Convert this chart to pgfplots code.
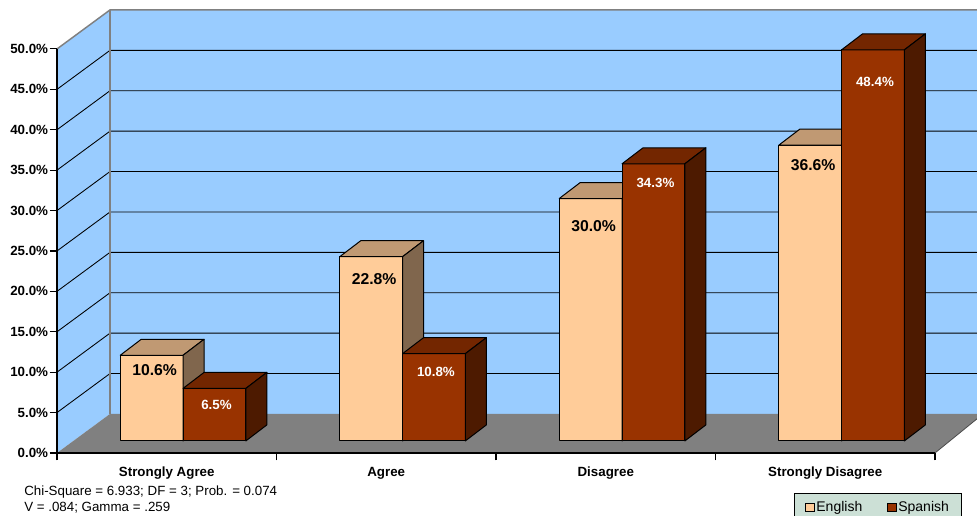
\documentclass[border=0pt]{standalone}
\usepackage{pgfplots}
\usepackage{pgfplotstable}
\usepackage{fontspec}
\setmainfont{Liberation Sans}
\pgfplotsset{compat=1.18}

\definecolor{wallblue}{HTML}{99CCFF}
\definecolor{floorgray}{HTML}{808080}
\definecolor{walledge}{HTML}{808080}
\definecolor{engfront}{HTML}{FFCC99}
\definecolor{engtop}{HTML}{C09973}
\definecolor{engside}{HTML}{80664D}
\definecolor{spafront}{HTML}{993300}
\definecolor{spatop}{HTML}{732600}
\definecolor{spaside}{HTML}{4D1A00}
\definecolor{legendbg}{HTML}{CCE0D6}

% share of responses (%), with the drop of each value label below its bar top (pt)
\pgfplotstableread{
cat english spanish eoff soff
0   10.6    6.5     11.25 12.5
1   22.8    10.8    17    13.8
2   30.0    34.3    21    14.5
3   36.6    48.4    15    23.8
}\responses

% geometry: x in 0.75pt units, y in percent
\def\catw{219.5}  % category width
\def\barw{62.8}   % bar width
\def\base{1.49}   % bar front stands behind the front edge of the floor
\def\ddx{21}      % bar depth
\def\ddy{1.98}
\def\wdx{53}      % wall depth
\def\wdy{4.83}

% one 3-D bar: #1 left edge of front face, #2 value, #3/#4/#5 front/top/side colours
\newcommand\cuboid[5]{%
  \pgfmathsetmacro\xl{#1}%
  \pgfmathsetmacro\xr{#1+\barw}%
  \pgfmathsetmacro\yt{\base+#2}%
  \pgfmathsetmacro\xlb{\xl+\ddx}%
  \pgfmathsetmacro\xrb{\xr+\ddx}%
  \pgfmathsetmacro\ybb{\base+\ddy}%
  \pgfmathsetmacro\ytb{\yt+\ddy}%
  \addplot[forget plot, fill=#3, draw=black, line width=0.75pt, line join=round]
    coordinates {(\xl,\base) (\xr,\base) (\xr,\yt) (\xl,\yt)} -- cycle;
  \addplot[forget plot, fill=#4, draw=black, line width=0.75pt, line join=round]
    coordinates {(\xl,\yt) (\xr,\yt) (\xrb,\ytb) (\xlb,\ytb)} -- cycle;
  \addplot[forget plot, fill=#5, draw=black, line width=0.75pt, line join=round]
    coordinates {(\xr,\base) (\xrb,\ybb) (\xrb,\ytb) (\xr,\yt)} -- cycle;
}

\begin{document}
\begin{tikzpicture}
\begin{axis}[
  x=0.75pt, y=6.06pt,
  xmin=0, xmax=878, ymin=0, ymax=50,
  enlargelimits=false,
  clip=false,
  axis on top,
  axis x line*=bottom, axis y line*=left,
  axis line style={-, black, line width=0.8pt},
  tick align=outside,
  every tick/.style={black, line width=0.8pt},
  major tick length=5.5pt,
  ytick={0,5,...,50},
  yticklabels={0.0\%,5.0\%,10.0\%,15.0\%,20.0\%,25.0\%,30.0\%,35.0\%,40.0\%,45.0\%,50.0\%},
  yticklabel style={font=\bfseries\fontsize{10}{12}\selectfont, inner xsep=1pt},
  xtick={0,219.5,439,658.5,878},
  xticklabels={},
  extra x ticks={109.75,329.25,548.75,768.25},
  extra x tick labels={Strongly Agree,Agree,Disagree,Strongly Disagree},
  extra x tick style={major tick length=0pt,
    xticklabel style={font=\bfseries\fontsize{10}{12}\selectfont, yshift=-7pt}},
  legend columns=2,
  legend image code/.code={\draw[#1, line width=0.6pt] (0pt,-3.2pt) rectangle (6.4pt,3.2pt);},
  legend style={at={(0.8394,-0.099)}, anchor=north west, draw=black,
    fill=legendbg, line width=0.6pt,
    font=\fontsize{10.5}{12}\selectfont, inner xsep=8pt, inner ysep=4pt,
    nodes={inner xsep=1.5pt},
    /tikz/every even column/.append style={column sep=17pt}},
]

% side wall, back wall and their edges
\addplot[forget plot, fill=wallblue, draw=none]
  coordinates {(0,0) (\wdx,\wdy) (\wdx,54.83) (0,50)} -- cycle;
\addplot[forget plot, fill=wallblue, draw=none]
  coordinates {(\wdx,\wdy) (935,\wdy) (935,54.83) (\wdx,54.83)} -- cycle;

% gridlines on both walls
\pgfplotsinvokeforeach{5,10,...,45}{
  \pgfmathsetmacro\gy{#1+\wdy}
  \addplot[forget plot, black, line width=0.65pt]
    coordinates {(0,#1) (\wdx,\gy) (935,\gy)};
}
\addplot[forget plot, walledge, line width=1.1pt]
  coordinates {(0,50) (\wdx,54.83) (935,54.83)};
\addplot[forget plot, walledge, line width=1.1pt]
  coordinates {(\wdx,\wdy) (\wdx,54.83)};

% floor
\addplot[forget plot, fill=floorgray, draw=none]
  coordinates {(0,0) (878,0) (926,\wdy) (\wdx,\wdy)} -- cycle;
\addplot[forget plot, black!70, line width=0.6pt]
  coordinates {(878,0) (926,\wdy)};

% bars
\pgfplotsinvokeforeach{0,1,2,3}{
  \pgfplotstablegetelem{#1}{english}\of\responses
  \let\ve\pgfplotsretval
  \pgfplotstablegetelem{#1}{spanish}\of\responses
  \let\vs\pgfplotsretval
  \pgfmathsetmacro\xe{63.25+\catw*#1}
  \pgfmathsetmacro\xs{\xe+\barw}
  \cuboid{\xe}{\ve}{engfront}{engtop}{engside}
  \cuboid{\xs}{\vs}{spafront}{spatop}{spaside}
}

% value labels
\addplot[forget plot, draw=none, mark=none,
  point meta=explicit,
  visualization depends on={\thisrow{eoff} \as \loff},
  nodes near coords={\pgfmathprintnumber[fixed,fixed zerofill,precision=1,assume math mode=true]{\pgfplotspointmeta}\%},
  every node near coord/.append style={anchor=center, yshift=-\loff pt,
    text=black, font=\bfseries\fontsize{11.8}{14}\selectfont}]
  table[x expr={63.25+\catw*\thisrow{cat}+\barw/2+3},
        y expr={\thisrow{english}+\base}, meta=english] {\responses};
\addplot[forget plot, draw=none, mark=none,
  point meta=explicit,
  visualization depends on={\thisrow{soff} \as \loff},
  nodes near coords={\pgfmathprintnumber[fixed,fixed zerofill,precision=1,assume math mode=true]{\pgfplotspointmeta}\%},
  every node near coord/.append style={anchor=center, yshift=-\loff pt,
    text=white, font=\bfseries\fontsize{10}{12}\selectfont}]
  table[x expr={63.25+\catw*\thisrow{cat}+\barw*1.5+2},
        y expr={\thisrow{spanish}+\base}, meta=spanish] {\responses};

\addlegendimage{fill=engfront, draw=black}
\addlegendentry{English}
\addlegendimage{fill=spafront, draw=black}
\addlegendentry{Spanish}

% test statistics
\node[anchor=west, inner sep=0pt, font=\fontsize{10}{12}\selectfont]
  at (axis cs:-33,-4.83) {Chi-Square = 6.933; DF = 3; Prob. = 0.074};
\node[anchor=west, inner sep=0pt, font=\fontsize{10}{12}\selectfont]
  at (axis cs:-33,-6.81) {V = .084; Gamma = .259};

\coordinate (tl) at (axis cs:-57,56.06);
\coordinate (br) at (axis cs:920,-7.797);
\end{axis}
\pgfresetboundingbox
\useasboundingbox (tl) rectangle (br);
\end{tikzpicture}
\end{document}
